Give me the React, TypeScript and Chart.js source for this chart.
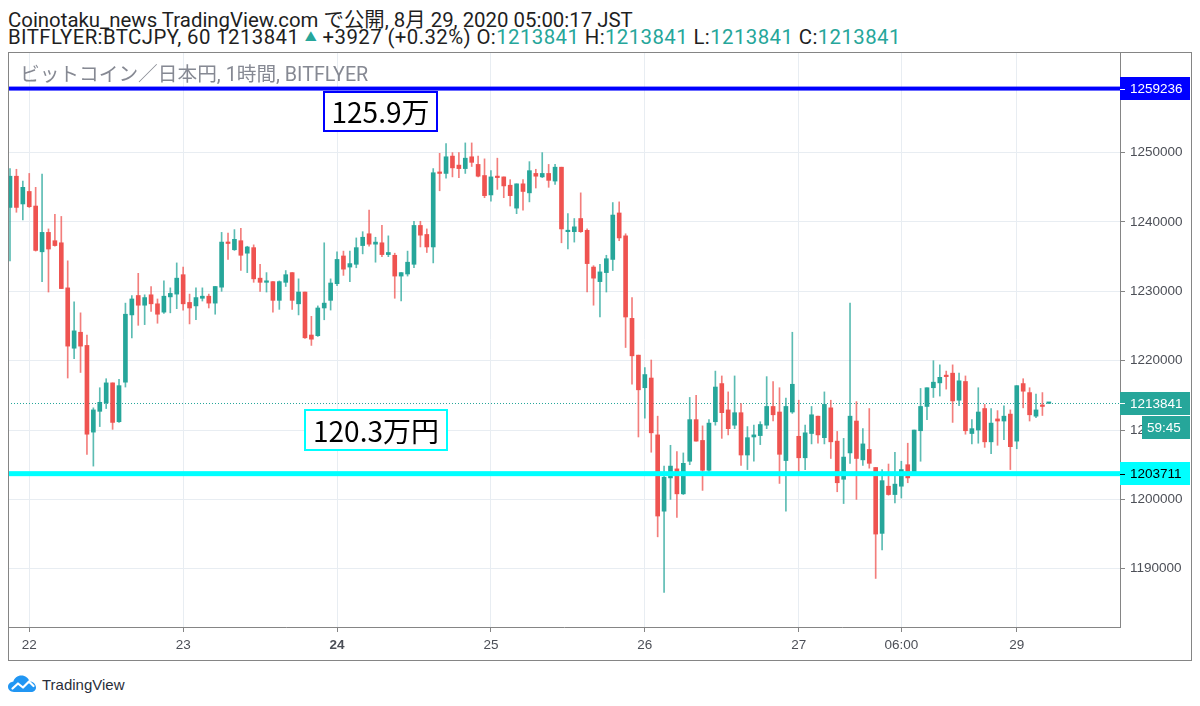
import React, { useEffect, useRef } from "react";
import { Chart, registerables } from "chart.js";

Chart.register(...registerables);

// ---- candle values, thousand JPY (hourly BTC/JPY on bitFlyer) ----
const OPEN_K = [
  1242.1, 1246.6, 1242.6, 1244.4, 1242.3, 1235.7, 1238.5, 1237.3, 1237.0, 1230.5,
  1221.8, 1224.1, 1222.2, 1209.7, 1212.7, 1213.9, 1216.8, 1211.2, 1216.9, 1226.6,
  1229.4, 1228.0, 1229.5, 1228.2, 1227.0, 1229.2, 1229.6, 1232.4, 1228.4, 1227.9,
  1229.0, 1229.3, 1228.3, 1230.6, 1237.1, 1236.0, 1237.3, 1235.5, 1236.3, 1231.9,
  1231.3, 1231.4, 1228.7, 1231.3, 1232.7, 1228.2, 1229.9, 1223.7, 1223.6, 1227.6,
  1228.7, 1231.1, 1235.1, 1233.5, 1233.9, 1236.6, 1238.3, 1236.8, 1237.0, 1235.3,
  1235.2, 1232.2, 1232.5, 1233.9, 1239.5, 1238.2, 1236.4, 1247.2, 1247.0, 1249.5,
  1248.2, 1247.7, 1249.4, 1248.3, 1246.7, 1243.9, 1246.6, 1246.5, 1245.3, 1242.0,
  1245.5, 1244.2, 1247.0, 1246.5, 1247.0, 1245.9, 1247.9, 1238.6, 1238.6, 1240.5,
  1238.8, 1233.5, 1231.4, 1232.7, 1234.6, 1241.3, 1238.0, 1226.1, 1220.8, 1216.1,
  1217.5, 1209.3, 1198.3, 1203.1, 1204.4, 1200.8, 1205.5, 1211.5, 1208.5, 1204.2,
  1211.2, 1216.7, 1212.9, 1210.7, 1212.5, 1206.4, 1209.0, 1209.2, 1210.7, 1213.4,
  1212.6, 1205.6, 1212.6, 1209.1, 1206.0, 1209.5, 1212.0, 1208.9, 1213.2, 1208.4,
  1202.9, 1206.7, 1211.3, 1205.7, 1207.2, 1204.6, 1195.1, 1201.9, 1200.7, 1201.9,
  1205.0, 1204.0, 1209.9, 1213.4, 1216.1, 1216.8, 1217.9, 1218.2, 1214.3, 1217.0,
  1209.5, 1210.0, 1213.1, 1208.3, 1211.6, 1211.3, 1212.3, 1208.4, 1216.7, 1215.4,
  1212.0, 1213.5, 1213.841,
];
const HIGH_K = [
  1247.7, 1247.6, 1245.9, 1247.0, 1245.0, 1246.9, 1239.0, 1241.1, 1240.8, 1234.4,
  1228.5, 1226.9, 1223.7, 1213.2, 1216.1, 1217.4, 1216.8, 1217.3, 1228.3, 1229.4,
  1232.6, 1229.5, 1230.7, 1228.9, 1231.5, 1230.5, 1234.1, 1233.5, 1229.6, 1230.5,
  1230.5, 1229.6, 1230.7, 1238.5, 1238.4, 1238.9, 1239.1, 1236.5, 1236.7, 1233.9,
  1232.7, 1231.4, 1231.5, 1233.0, 1232.7, 1231.8, 1229.9, 1226.4, 1227.9, 1237.0,
  1231.8, 1235.7, 1235.8, 1235.8, 1237.7, 1238.6, 1241.7, 1237.8, 1239.5, 1238.0,
  1235.5, 1232.7, 1235.8, 1240.1, 1240.1, 1239.0, 1247.7, 1249.9, 1251.3, 1250.0,
  1250.0, 1251.4, 1251.4, 1249.5, 1249.1, 1247.4, 1249.2, 1246.5, 1246.1, 1245.5,
  1246.1, 1248.7, 1247.6, 1250.0, 1248.3, 1248.3, 1247.9, 1241.2, 1240.5, 1244.2,
  1239.0, 1233.7, 1233.9, 1235.2, 1242.8, 1242.9, 1238.3, 1229.1, 1220.8, 1219.0,
  1220.1, 1212.0, 1204.8, 1207.8, 1206.9, 1206.7, 1214.7, 1215.0, 1210.6, 1211.5,
  1218.5, 1217.8, 1215.5, 1217.8, 1213.8, 1210.5, 1210.7, 1211.2, 1217.7, 1217.0,
  1216.1, 1214.6, 1224.1, 1214.3, 1210.7, 1213.4, 1212.0, 1215.5, 1214.3, 1209.8,
  1208.8, 1228.3, 1214.1, 1210.2, 1213.1, 1204.6, 1204.3, 1205.1, 1206.8, 1205.5,
  1208.1, 1210.0, 1216.0, 1216.1, 1220.0, 1219.4, 1218.5, 1219.4, 1218.2, 1217.8,
  1211.5, 1216.1, 1213.7, 1213.1, 1212.8, 1213.5, 1212.9, 1216.4, 1217.4, 1216.1,
  1215.2, 1215.4, 1213.841,
];
const LOW_K = [
  1234.4, 1241.4, 1240.3, 1242.1, 1235.8, 1231.4, 1229.9, 1236.5, 1230.4, 1217.5,
  1220.3, 1218.3, 1206.5, 1204.8, 1210.5, 1213.1, 1210.1, 1211.1, 1216.2, 1223.3,
  1225.1, 1225.2, 1227.1, 1225.4, 1226.8, 1226.9, 1227.5, 1227.3, 1225.3, 1225.9,
  1228.6, 1227.6, 1226.7, 1230.0, 1234.6, 1235.9, 1233.0, 1232.7, 1231.3, 1230.0,
  1229.9, 1227.0, 1227.4, 1230.7, 1227.4, 1226.6, 1223.2, 1222.2, 1223.5, 1225.9,
  1227.3, 1230.8, 1232.3, 1231.4, 1233.4, 1235.4, 1236.5, 1234.2, 1235.0, 1235.0,
  1229.0, 1228.6, 1232.2, 1233.4, 1236.4, 1235.6, 1234.1, 1244.5, 1246.3, 1246.5,
  1246.4, 1247.0, 1248.0, 1246.5, 1243.5, 1243.0, 1244.7, 1243.5, 1242.3, 1241.2,
  1241.7, 1242.9, 1244.9, 1246.4, 1245.0, 1245.4, 1237.0, 1236.1, 1237.1, 1238.5,
  1229.9, 1228.0, 1226.3, 1229.9, 1233.0, 1237.3, 1221.9, 1216.6, 1209.0, 1211.7,
  1206.8, 1194.6, 1186.6, 1200.0, 1197.4, 1200.7, 1205.0, 1208.4, 1201.3, 1204.0,
  1210.7, 1208.8, 1209.3, 1210.2, 1204.9, 1204.3, 1205.5, 1207.9, 1210.2, 1211.3,
  1202.3, 1198.3, 1212.4, 1204.0, 1204.3, 1208.0, 1208.1, 1208.0, 1205.9, 1201.1,
  1199.4, 1205.2, 1200.0, 1204.9, 1204.5, 1188.6, 1192.7, 1200.6, 1199.5, 1200.2,
  1202.4, 1203.8, 1205.5, 1211.5, 1214.7, 1214.9, 1215.9, 1211.1, 1213.5, 1209.4,
  1208.0, 1208.1, 1207.5, 1206.6, 1207.8, 1208.6, 1204.3, 1207.3, 1213.2, 1211.3,
  1211.8, 1212.1, 1213.841,
];
const CLOSE_K = [
  1246.6, 1242.1, 1245.0, 1242.2, 1235.9, 1238.5, 1236.1, 1236.6, 1230.4, 1222.1,
  1224.3, 1222.1, 1209.4, 1212.9, 1214.0, 1216.8, 1211.1, 1216.4, 1226.7, 1228.9,
  1228.0, 1229.1, 1228.2, 1226.7, 1229.3, 1229.7, 1231.9, 1228.2, 1227.6, 1229.1,
  1229.3, 1228.3, 1230.7, 1237.1, 1236.9, 1237.5, 1235.2, 1236.4, 1231.8, 1231.3,
  1231.4, 1228.7, 1231.4, 1232.4, 1228.7, 1229.9, 1223.3, 1223.1, 1227.6, 1228.3,
  1231.2, 1234.6, 1233.2, 1234.0, 1236.3, 1237.8, 1236.8, 1237.1, 1235.3, 1235.6,
  1232.2, 1232.7, 1234.2, 1239.5, 1238.1, 1236.4, 1247.1, 1247.0, 1249.4, 1247.8,
  1247.7, 1249.2, 1248.6, 1246.6, 1243.8, 1246.5, 1246.4, 1245.2, 1243.8, 1245.5,
  1244.4, 1247.4, 1246.6, 1247.0, 1246.0, 1247.9, 1239.0, 1238.8, 1239.3, 1238.6,
  1234.0, 1231.9, 1232.8, 1234.7, 1241.0, 1237.7, 1226.3, 1220.7, 1215.8, 1218.0,
  1209.6, 1197.6, 1203.2, 1204.8, 1200.8, 1205.2, 1211.5, 1208.4, 1204.2, 1211.0,
  1216.2, 1212.5, 1210.2, 1212.5, 1206.4, 1208.9, 1209.3, 1210.8, 1213.4, 1212.2,
  1206.5, 1213.4, 1216.6, 1206.0, 1209.6, 1212.2, 1209.3, 1213.7, 1208.3, 1202.4,
  1206.1, 1212.0, 1205.9, 1208.0, 1205.2, 1195.0, 1202.7, 1200.7, 1202.2, 1204.3,
  1203.1, 1210.0, 1213.4, 1216.1, 1216.9, 1217.6, 1217.7, 1214.2, 1217.1, 1209.9,
  1210.2, 1212.6, 1208.3, 1211.0, 1211.3, 1212.0, 1207.6, 1216.4, 1215.6, 1212.2,
  1212.9, 1213.4, 1213.841,
];

// ---- axis ticks ----
const X_TICK_INDEX = [3, 27, 51, 75, 99, 123, 139, 157];
const X_TICK_LABELS = ["22", "23", "24", "25", "26", "27", "06:00", "29"];
const BOLD_TICK_LABEL = "24";
const Y_TICKS = [1190000, 1200000, 1210000, 1220000, 1230000, 1240000, 1250000];

// ---- price levels & notes ----
const RESIST_PRICE = 1259236;
const SUPPORT_PRICE = 1203711;
const LAST_PRICE = 1213841;
const COUNTDOWN = "59:45";
const RESIST_NOTE = "125.9万";
const SUPPORT_NOTE = "120.3万円";

// ---- styles / layout ----
const UP = "#26a69a";
const DOWN = "#ef5350";
const UP_WICK = "rgba(38,166,154,0.75)";
const DOWN_WICK = "rgba(239,83,80,0.75)";
const BLUE = "#0000ff";
const CYAN = "#00ffff";
const GRID = "#e8edf2";
const FRAME = "#858585";
const TICK_TEXT = "#4c4f57";
const AXIS_FONT = "'Liberation Sans', Arial, sans-serif";
const AXIS_SIZE = 13.5;
const UI_FONT = "Roboto, 'Noto Sans CJK JP', sans-serif";
const X_MIN = -0.312;
const X_MAX = 173.1;
const Y_MIN = 1181600;
const Y_MAX = 1264510;
const K = 1000;

const NOTES = [
  { text: RESIST_NOTE, xIdx: 57.7, price: 1255960, w: 115, h: 41, color: BLUE },
  { text: SUPPORT_NOTE, xIdx: 57.0, price: 1209960, w: 144, h: 42, color: CYAN },
];

const overlayPlugin = {
  id: "tvOverlay",
  beforeDatasetsDraw(chart: any) {
    const { ctx, chartArea: a, scales } = chart;
    const y = scales.y;
    ctx.save();
    const yl = Math.round(y.getPixelForValue(LAST_PRICE)) + 0.5;
    ctx.strokeStyle = UP;
    ctx.lineWidth = 1;
    ctx.setLineDash([1, 2]);
    ctx.beginPath();
    ctx.moveTo(a.left, yl);
    ctx.lineTo(a.right, yl);
    ctx.stroke();
    ctx.restore();
  },
  afterDatasetsDraw(chart: any) {
    const { ctx, chartArea: a, scales } = chart;
    const x = scales.x;
    const y = scales.y;
    ctx.save();
    const levels = [
      { price: RESIST_PRICE, color: BLUE, width: 4 },
      { price: SUPPORT_PRICE, color: CYAN, width: 5 },
    ];
    for (const lv of levels) {
      const py = y.getPixelForValue(lv.price);
      ctx.fillStyle = lv.color;
      ctx.fillRect(a.left, py - lv.width / 2, a.right - a.left, lv.width);
    }
    for (const n of NOTES) {
      const cx = x.getPixelForValue(n.xIdx);
      const cy = y.getPixelForValue(n.price);
      const l = Math.round(cx - n.w / 2);
      const t = Math.round(cy - n.h / 2);
      ctx.fillStyle = "#ffffff";
      ctx.fillRect(l, t, n.w, n.h);
      ctx.strokeStyle = n.color;
      ctx.lineWidth = 2;
      ctx.strokeRect(l + 1, t + 1, n.w - 2, n.h - 2);
      ctx.fillStyle = "#000000";
      ctx.font = "28px 'Noto Sans CJK JP', sans-serif";
      ctx.textAlign = "center";
      ctx.textBaseline = "middle";
      ctx.fillText(n.text, l + n.w / 2, t + n.h / 2 + 1);
    }
    ctx.restore();
  },
  afterDraw(chart: any) {
    const { ctx, chartArea: a, scales, width, height } = chart;
    const y = scales.y;
    ctx.save();
    const tag = (price: number, bg: string, fg: string) => {
      const py = y.getPixelForValue(price);
      ctx.fillStyle = bg;
      ctx.fillRect(a.right, Math.round(py - 11.5), 70, 23);
      ctx.strokeStyle = fg;
      ctx.lineWidth = 1;
      ctx.beginPath();
      ctx.moveTo(a.right, Math.round(py) + 0.5);
      ctx.lineTo(a.right + 5, Math.round(py) + 0.5);
      ctx.stroke();
      ctx.fillStyle = fg;
      ctx.font = AXIS_SIZE + "px " + AXIS_FONT;
      ctx.textAlign = "left";
      ctx.textBaseline = "middle";
      ctx.fillText(String(price), a.right + 10, py + 1);
      return py;
    };
    tag(RESIST_PRICE, BLUE, "#ffffff");
    tag(SUPPORT_PRICE, CYAN, "#000000");
    const pl = tag(LAST_PRICE, UP, "#ffffff");
    ctx.fillStyle = UP;
    ctx.fillRect(a.right + 22, Math.round(pl + 12.5), 48, 23);
    ctx.fillStyle = "#ffffff";
    ctx.font = AXIS_SIZE + "px " + AXIS_FONT;
    ctx.textAlign = "left";
    ctx.textBaseline = "middle";
    ctx.fillText(COUNTDOWN, a.right + 27, pl + 25);
    ctx.strokeStyle = FRAME;
    ctx.lineWidth = 1;
    ctx.strokeRect(0.5, 0.5, width - 1, height - 1);
    ctx.restore();
  },
};

function TVLogo() {
  return (
    <svg width="31" height="20" viewBox="0 0 31 20" style={{ display: "block" }}>
      <path
        d="M6 18 C2 18 0 15.5 0 12.8 C0 10 2.4 7.8 5.2 7.8 C6.2 4.2 9.4 1.6 13.4 1.6 C17.4 1.6 20.4 4 21.4 7.4 C25 7.2 28 10 28 13.4 C28 16 26 18 23 18 Z"
        fill="#2196f3"
      />
      <polyline points="4.5,14.5 10,9.5 15,13.5 21,7.5 25.5,12" fill="none" stroke="#ffffff" strokeWidth="2.2" strokeLinejoin="round" strokeLinecap="round" />
    </svg>
  );
}

export default function App() {
  const canvasRef = useRef<HTMLCanvasElement | null>(null);

  useEffect(() => {
    if (!canvasRef.current) return;
    const idx = OPEN_K.map((_, i) => i);
    const isUp = idx.map((i) => CLOSE_K[i] >= OPEN_K[i]);
    const chart = new Chart(canvasRef.current, {
      type: "bar",
      data: {
        datasets: [
          {
            label: "body",
            data: idx.map((i) => ({ x: i, y: [OPEN_K[i] * K, CLOSE_K[i] * K] })) as any,
            backgroundColor: isUp.map((u) => (u ? UP : DOWN)),
            barThickness: 4,
            minBarLength: 1.5,
            grouped: false,
            borderWidth: 0,
            order: 0,
          } as any,
          {
            label: "wick",
            data: idx.map((i) => ({ x: i, y: [LOW_K[i] * K, HIGH_K[i] * K] })) as any,
            backgroundColor: isUp.map((u) => (u ? UP_WICK : DOWN_WICK)),
            barThickness: 1,
            minBarLength: 1,
            grouped: false,
            borderWidth: 0,
            order: 1,
          } as any,
        ],
      },
      options: {
        animation: false,
        responsive: false,
        maintainAspectRatio: false,
        layout: { padding: 0 },
        events: [],
        plugins: {
          legend: { display: false },
          tooltip: { enabled: false },
        },
        scales: {
          x: {
            type: "linear",
            position: "bottom",
            min: X_MIN,
            max: X_MAX,
            offset: false,
            afterFit: (s: any) => {
              s.height = 34;
              s.paddingLeft = 0;
              s.paddingRight = 0;
              s.paddingTop = 0;
              s.paddingBottom = 0;
            },
            afterBuildTicks: (s: any) => {
              s.ticks = X_TICK_INDEX.map((v) => ({ value: v }));
            },
            grid: {
              offset: false,
              color: GRID,
              tickColor: FRAME,
              tickLength: 5,
              drawOnChartArea: true,
            },
            border: { display: true, color: FRAME, width: 1 },
            ticks: {
              autoSkip: false,
              maxRotation: 0,
              padding: 5,
              color: TICK_TEXT,
              font: (c: any) => ({
                family: AXIS_FONT,
                size: AXIS_SIZE,
                weight: X_TICK_LABELS[c.index] === BOLD_TICK_LABEL ? "bold" : "normal",
              }),
              callback: (v: any) => {
                const k = X_TICK_INDEX.indexOf(Number(v));
                return k >= 0 ? X_TICK_LABELS[k] : "";
              },
            },
          },
          y: {
            type: "linear",
            position: "right",
            min: Y_MIN,
            max: Y_MAX,
            afterFit: (s: any) => {
              s.width = 72;
              s.paddingLeft = 0;
              s.paddingRight = 0;
              s.paddingTop = 0;
              s.paddingBottom = 0;
            },
            afterBuildTicks: (s: any) => {
              s.ticks = Y_TICKS.map((v) => ({ value: v }));
            },
            grid: {
              offset: false,
              color: GRID,
              tickColor: FRAME,
              tickLength: 5,
            },
            border: { display: true, color: FRAME, width: 1 },
            ticks: {
              padding: 5,
              color: TICK_TEXT,
              font: { family: AXIS_FONT, size: AXIS_SIZE },
              callback: (v: any) => String(v),
            },
          },
        },
      },
      plugins: [overlayPlugin],
    } as any);
    return () => chart.destroy();
  }, []);

  const teal = { color: UP };
  return (
    <div
      style={{
        position: "absolute",
        left: 0,
        top: 0,
        width: 1200,
        height: 706,
        background: "#ffffff",
        overflow: "hidden",
        fontFamily: UI_FONT,
        color: "#1f1f1f",
      }}
    >
      <div style={{ position: "absolute", left: 8, top: 10, fontSize: 20.4, lineHeight: "20px", whiteSpace: "nowrap" }}>
        Coinotaku_news TradingView.com で公開, 8月 29, 2020 05:00:17 JST
      </div>
      <div
        style={{
          position: "absolute",
          left: 8,
          top: 26.5,
          fontSize: 20.4,
          lineHeight: "20px",
          letterSpacing: "0.4px",
          whiteSpace: "nowrap",
        }}
      >
        BITFLYER:BTCJPY, 60 1213841 <span style={{ ...teal, fontSize: 12, verticalAlign: "2px" }}>▲</span> +3927 (+0.32%) O:
        <span style={teal}>1213841</span> H:<span style={teal}>1213841</span> L:<span style={teal}>1213841</span> C:
        <span style={teal}>1213841</span>
      </div>
      <canvas
        ref={canvasRef}
        width={1184}
        height={609}
        style={{ position: "absolute", left: 8, top: 52, width: 1184, height: 609 }}
      />
      <div
        style={{
          position: "absolute",
          left: 20,
          top: 63,
          fontSize: 19.7,
          lineHeight: "24px",
          color: "#868993",
          whiteSpace: "nowrap",
          pointerEvents: "none",
        }}
      >
        ビットコイン／日本円, 1時間, BITFLYER
      </div>
      <div style={{ position: "absolute", left: 8, top: 674, display: "flex", alignItems: "center" }}>
        <TVLogo />
        <span
          style={{
            marginLeft: 3,
            fontFamily: "'Liberation Sans', Arial, sans-serif",
            fontSize: 15,
            color: "#2a2e39",
          }}
        >
          TradingView
        </span>
      </div>
    </div>
  );
}
